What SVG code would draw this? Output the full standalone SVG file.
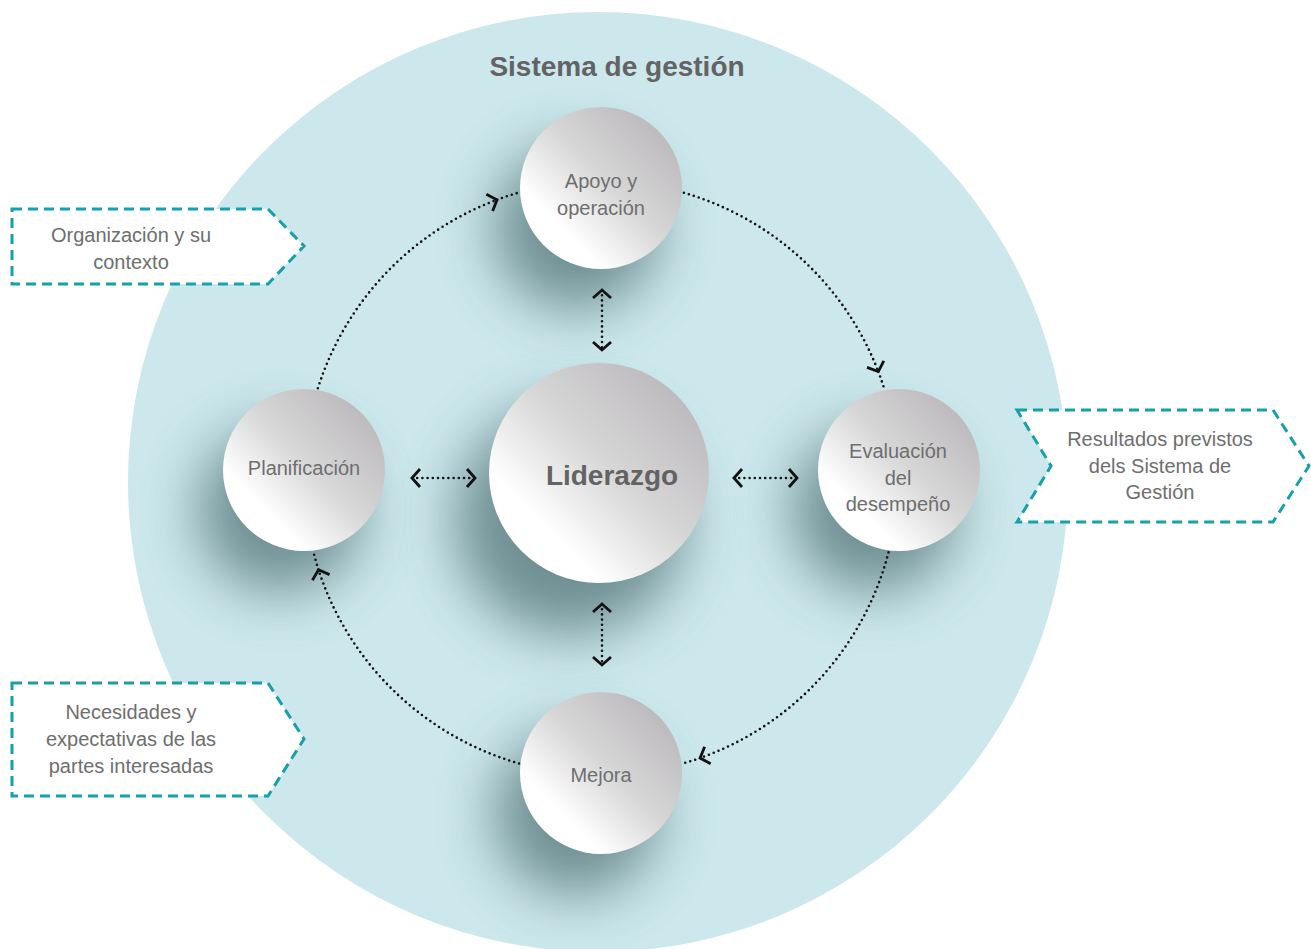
<svg xmlns="http://www.w3.org/2000/svg" width="1311" height="949" viewBox="0 0 1311 949">
<style>
.lbl{font-family:"Liberation Sans",Arial,sans-serif;font-size:20px;fill:#6e6e6e;text-anchor:middle}
.bold{font-weight:bold;fill:#636363}
.box{fill:#ffffff;stroke:#17a0aa;stroke-width:3;stroke-dasharray:10 6}
.dot{fill:none;stroke:#111;stroke-width:2.6;stroke-linecap:round;stroke-dasharray:0 5.2}
.node{fill:url(#ng)}
.sh{fill:#4a6a6e;opacity:0.7;filter:url(#blur)}
</style>
<defs>
<linearGradient id="ng" x1="0.15" y1="0.85" x2="0.85" y2="0.15">
<stop offset="0.15" stop-color="#ffffff"/>
<stop offset="0.55" stop-color="#d8d7d8"/>
<stop offset="1" stop-color="#bdbbbd"/>
</linearGradient>
<filter id="blur" x="-80%" y="-80%" width="260%" height="260%">
<feGaussianBlur stdDeviation="28"/>
</filter>
<clipPath id="bigclip"><circle cx="598" cy="482" r="470"/></clipPath>
<marker id="ah" markerUnits="userSpaceOnUse" markerWidth="24" markerHeight="24" viewBox="-12 -12 24 24" refX="0" refY="0" orient="auto-start-reverse">
<path d="M -8 -9 L 0 0 L -8 9" fill="none" stroke="#111" stroke-width="2.8" stroke-linejoin="miter"/>
</marker>
</defs>
<rect width="1311" height="949" fill="#ffffff"/>
<circle cx="598" cy="482" r="470" fill="#cce8ec"/>
<g clip-path="url(#bigclip)">
<circle class="sh" cx="576" cy="228" r="82"/>
<circle class="sh" cx="280" cy="510" r="82"/>
<circle class="sh" cx="570" cy="520" r="115"/>
<circle class="sh" cx="874" cy="510" r="82"/>
<circle class="sh" cx="576" cy="813" r="82"/>
</g>
<text class="lbl bold" x="617" y="76" style="font-size:28px">Sistema de gestión</text>

<g id="connectors">
<path class="dot" d="M 317.9 388.2 A 297 297 0 0 1 497 199.8" marker-end="url(#ah)"/>
<path class="dot" d="M 497 199.8 A 297 297 0 0 1 519 192.5"/>
<path class="dot" d="M 683.9 192.8 A 297 297 0 0 1 878.3 371.6" marker-end="url(#ah)"/>
<path class="dot" d="M 878.3 371.6 A 297 297 0 0 1 885 391.2"/>
<path class="dot" d="M 888.5 552.4 A 297 297 0 0 1 700.1 758" marker-end="url(#ah)"/>
<path class="dot" d="M 700.1 758 A 297 297 0 0 1 682.9 763.5"/>
<path class="dot" d="M 519.1 763.5 A 297 297 0 0 1 318.5 569.8" marker-end="url(#ah)"/>
<path class="dot" d="M 318.5 569.8 A 297 297 0 0 1 313.5 552.4"/>
<path class="dot" d="M 602 290 L 602 350" marker-start="url(#ah)" marker-end="url(#ah)"/>
<path class="dot" d="M 602 604 L 602 665" marker-start="url(#ah)" marker-end="url(#ah)"/>
<path class="dot" d="M 412 478 L 475 478" marker-start="url(#ah)" marker-end="url(#ah)"/>
<path class="dot" d="M 734 478 L 797 478" marker-start="url(#ah)" marker-end="url(#ah)"/>
</g>

<g id="apoyo">
<circle class="node" cx="601" cy="188" r="81"/>
<text class="lbl" x="601" y="188">Apoyo y</text>
<text class="lbl" x="601" y="215">operación</text>
</g>
<g id="planificacion">
<circle class="node" cx="304" cy="470" r="81"/>
<text class="lbl" x="304" y="475">Planificación</text>
</g>
<g id="liderazgo">
<circle class="node" cx="599" cy="473" r="110"/>
<text class="lbl bold" x="612" y="485" style="font-size:28px">Liderazgo</text>
</g>
<g id="evaluacion">
<circle class="node" cx="899" cy="470" r="81"/>
<text class="lbl" x="898" y="458">Evaluación</text>
<text class="lbl" x="898" y="485">del</text>
<text class="lbl" x="898" y="511">desempeño</text>
</g>
<g id="mejora">
<circle class="node" cx="601" cy="773" r="81"/>
<text class="lbl" x="601" y="782">Mejora</text>
</g>

<g id="organizacion">
<path class="box" d="M 12 209 L 268 209 L 304 246 L 268 284 L 12 284 Z"/>
<text class="lbl" x="131" y="242">Organización y su</text>
<text class="lbl" x="131" y="269">contexto</text>
</g>
<g id="necesidades">
<path class="box" d="M 12 683 L 268 683 L 304 739 L 268 796 L 12 796 Z"/>
<text class="lbl" x="131" y="719">Necesidades y</text>
<text class="lbl" x="131" y="746">expectativas de las</text>
<text class="lbl" x="131" y="773">partes interesadas</text>
</g>
<g id="resultados">
<path class="box" d="M 1017 410 L 1273 410 L 1309 466 L 1273 522 L 1017 522 L 1051 466 Z"/>
<text class="lbl" x="1160" y="446">Resultados previstos</text>
<text class="lbl" x="1160" y="473">dels Sistema de</text>
<text class="lbl" x="1160" y="499">Gestión</text>
</g>
</svg>
